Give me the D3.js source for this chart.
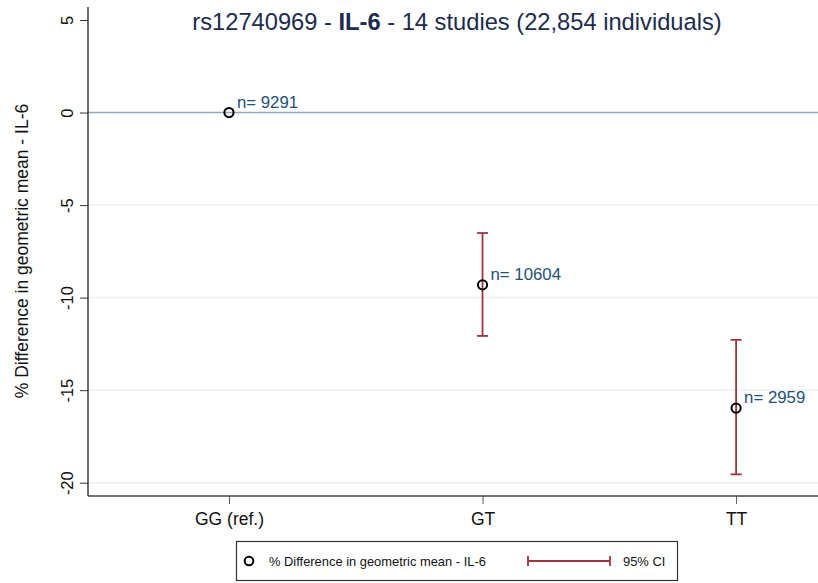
<!DOCTYPE html>
<html>
<head>
<meta charset="utf-8">
<script src="https://cdn.jsdelivr.net/npm/d3@7"></script>
<style>
  html, body { margin: 0; padding: 0; background: #fff; }
  svg { display: block; font-family: "Liberation Sans", Arial, sans-serif; }
</style>
</head>
<body>
<svg id="chart" width="818" height="583"></svg>
<script>
// Genotype groups and their estimates (% difference in geometric mean IL-6)
const genotypes = ["GG (ref.)", "GT", "TT"];
const estimates = [0, -9.31, -15.97];
const ciLower = [null, -12.07, -19.55];
const ciUpper = [null, -6.51, -12.28];
const groupN = [9291, 10604, 2959];
const yTicks = [5, 0, -5, -10, -15, -20];

const W = 818, H = 583;
const frame = { left: 88, right: 818, top: 7, bottom: 496 };
const font = "Liberation Sans, Arial, sans-serif";

const svg = d3.select("#chart");

// x positions: groups placed at 1, 2, 3 on a linear scale
const x = d3.scaleLinear().domain([0.444, 3.323]).range([frame.left, frame.right]);
const y = d3.scaleLinear().domain([-20, 5]).range([482.7, 20]);

// light horizontal gridlines
svg.append("g")
  .selectAll("line")
  .data(yTicks.filter(t => t !== 0 && t !== 5))
  .join("line")
  .attr("x1", frame.left).attr("x2", frame.right)
  .attr("y1", d => y(d)).attr("y2", d => y(d))
  .attr("stroke", "#e8eff1").attr("stroke-width", 1.5);

// reference line at zero
svg.append("line")
  .attr("x1", frame.left).attr("x2", frame.right)
  .attr("y1", y(0)).attr("y2", y(0))
  .attr("stroke", "#93a9c0").attr("stroke-width", 1.5);

// y axis
const yAxis = svg.append("g")
  .attr("transform", `translate(${frame.left},0)`)
  .call(d3.axisLeft(y).tickValues(yTicks).tickSize(8).tickSizeOuter(0)
    .tickFormat(d => String(d)));
yAxis.select(".domain").remove();
yAxis.selectAll(".tick line").attr("stroke", "#333").attr("stroke-width", 1);
yAxis.selectAll(".tick text")
  .attr("font-size", 16.5)
  .attr("fill", "#111")
  .attr("font-family", font)
  .attr("transform", "translate(-21,0) rotate(-90)")
  .attr("x", 0).attr("dy", "0.35em")
  .attr("text-anchor", "middle");
svg.append("line")
  .attr("x1", frame.left).attr("x2", frame.left)
  .attr("y1", frame.top).attr("y2", frame.bottom)
  .attr("stroke", "#222").attr("stroke-width", 1.3);

// x axis
const xAxis = svg.append("g")
  .attr("transform", `translate(0,${frame.bottom})`)
  .call(d3.axisBottom(x).tickValues([1, 2, 3]).tickSize(8).tickSizeOuter(0)
    .tickFormat(d => genotypes[d - 1]));
xAxis.select(".domain").remove();
xAxis.selectAll(".tick line").attr("stroke", "#555").attr("stroke-width", 1);
xAxis.selectAll(".tick text")
  .attr("font-size", 17.5)
  .attr("fill", "#111")
  .attr("font-family", font)
  .attr("y", 16.5);
svg.append("line")
  .attr("x1", frame.left).attr("x2", frame.right)
  .attr("y1", frame.bottom).attr("y2", frame.bottom)
  .attr("stroke", "#444").attr("stroke-width", 1.3);

// y axis title
svg.append("text")
  .attr("transform", `translate(28,251) rotate(-90)`)
  .attr("text-anchor", "middle")
  .attr("font-size", 17.5)
  .attr("fill", "#111")
  .text("% Difference in geometric mean - IL-6");

// chart title
const title = svg.append("text")
  .attr("x", 457).attr("y", 29.5)
  .attr("text-anchor", "middle")
  .attr("font-size", 23.7)
  .attr("fill", "#1c2b4e");
title.append("tspan").text("rs12740969 - ");
title.append("tspan").attr("font-weight", "bold").text("IL-6");
title.append("tspan").text(" - 14 studies (22,854 individuals)");

// confidence intervals
const ciColor = "#9b3441";
const ciData = genotypes.map((g, i) => ({ i, lo: ciLower[i], hi: ciUpper[i] }))
  .filter(d => d.lo !== null);
const capHalf = 5.5;
const ci = svg.append("g").attr("stroke", ciColor).attr("stroke-width", 1.8);
ci.selectAll("line.stem").data(ciData).join("line").attr("class", "stem")
  .attr("x1", d => x(d.i + 1)).attr("x2", d => x(d.i + 1))
  .attr("y1", d => y(d.lo)).attr("y2", d => y(d.hi));
ci.selectAll("line.capLo").data(ciData).join("line").attr("class", "capLo")
  .attr("x1", d => x(d.i + 1) - capHalf).attr("x2", d => x(d.i + 1) + capHalf)
  .attr("y1", d => y(d.lo)).attr("y2", d => y(d.lo));
ci.selectAll("line.capHi").data(ciData).join("line").attr("class", "capHi")
  .attr("x1", d => x(d.i + 1) - capHalf).attr("x2", d => x(d.i + 1) + capHalf)
  .attr("y1", d => y(d.hi)).attr("y2", d => y(d.hi));

// point estimates
svg.append("g").selectAll("circle")
  .data(estimates)
  .join("circle")
  .attr("cx", (d, i) => x(i + 1))
  .attr("cy", d => y(d))
  .attr("r", 4.6)
  .attr("fill", "none")
  .attr("stroke", "#000")
  .attr("stroke-width", 2);

// sample-size labels
svg.append("g").selectAll("text")
  .data(groupN)
  .join("text")
  .attr("x", (d, i) => x(i + 1) + 8)
  .attr("y", (d, i) => y(estimates[i]) - 5)
  .attr("font-size", 16.8)
  .attr("fill", "#1f4f7a")
  .text(d => `n= ${d}`);

// legend
const lg = svg.append("g");
lg.append("rect")
  .attr("x", 236.5).attr("y", 541.5).attr("width", 441).attr("height", 39)
  .attr("fill", "#fff").attr("stroke", "#333").attr("stroke-width", 1.2);
lg.append("circle")
  .attr("cx", 249).attr("cy", 561).attr("r", 4.3)
  .attr("fill", "none").attr("stroke", "#000").attr("stroke-width", 2);
lg.append("text")
  .attr("x", 269).attr("y", 565.5)
  .attr("font-size", 12.9)
  .attr("fill", "#111")
  .text("% Difference in geometric mean - IL-6");
const lgCI = lg.append("g").attr("stroke", ciColor).attr("stroke-width", 1.8);
lgCI.append("line").attr("x1", 528).attr("x2", 610).attr("y1", 561).attr("y2", 561);
lgCI.append("line").attr("x1", 528).attr("x2", 528).attr("y1", 556).attr("y2", 566);
lgCI.append("line").attr("x1", 610).attr("x2", 610).attr("y1", 556).attr("y2", 566);
lg.append("text")
  .attr("x", 623).attr("y", 565.5)
  .attr("font-size", 12.9)
  .attr("fill", "#111")
  .text("95% CI");
</script>
</body>
</html>
